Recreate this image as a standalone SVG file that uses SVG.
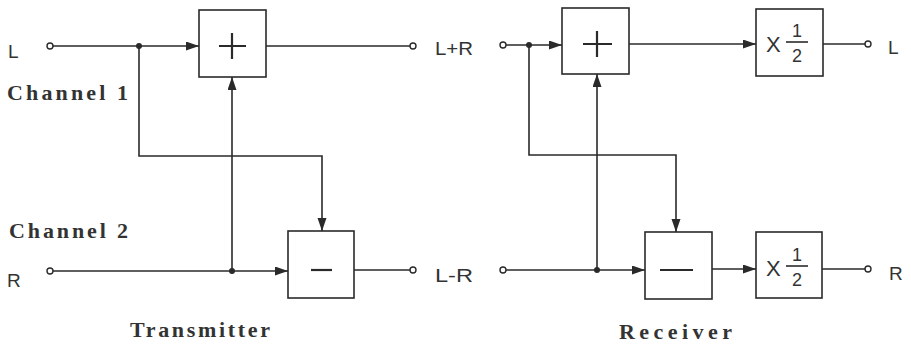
<svg xmlns="http://www.w3.org/2000/svg" width="911" height="347" viewBox="0 0 911 347">
<defs>
<marker id="ah" markerUnits="userSpaceOnUse" markerWidth="14" markerHeight="10" refX="13" refY="4.5" orient="auto">
<path d="M0,0 L13,4.5 L0,9 z" fill="#2a2a2a"/>
</marker>
<style>
.ln{fill:none;stroke:#2a2a2a;stroke-width:1.6}
.arr{fill:none;stroke:#2a2a2a;stroke-width:1.6;marker-end:url(#ah)}
.box{fill:#fff;stroke:#2a2a2a;stroke-width:1.6}
.sym{fill:none;stroke:#2a2a2a;stroke-width:2.2}
.term{fill:#fff;stroke:#2a2a2a;stroke-width:1.4}
.dot{fill:#2a2a2a}
.lbl{font-family:"Liberation Sans",Arial,sans-serif;font-size:19px;fill:#333}
.tw{font-family:"Liberation Serif","Times New Roman",serif;font-weight:bold;font-size:22px;fill:#333}
.x{font-family:"Liberation Sans",Arial,sans-serif;font-size:22px;fill:#333}
.fr{font-family:"Liberation Sans",Arial,sans-serif;font-size:18px;fill:#333}
</style>
</defs>
<rect width="911" height="347" fill="#fff"/>

<g id="connectors">
<!-- transmitter -->
<line class="arr" x1="53" y1="46" x2="199" y2="46"/>
<polyline class="arr" points="139,46 139,156 322,156 322,231"/>
<line class="ln" x1="266" y1="46" x2="410" y2="46"/>
<line class="arr" x1="53" y1="271" x2="288" y2="271"/>
<line class="arr" x1="232" y1="271" x2="232" y2="77"/>
<line class="ln" x1="354" y1="270" x2="410" y2="270"/>
<!-- receiver -->
<line class="arr" x1="506" y1="45" x2="562" y2="45"/>
<polyline class="arr" points="529,45 529,155 676,155 676,232"/>
<line class="arr" x1="629" y1="44" x2="756" y2="44"/>
<line class="ln" x1="823" y1="44" x2="865" y2="44"/>
<line class="arr" x1="506" y1="270" x2="645" y2="270"/>
<line class="arr" x1="597" y1="270" x2="597" y2="74"/>
<line class="arr" x1="712" y1="269" x2="756" y2="269"/>
<line class="ln" x1="822" y1="269" x2="865" y2="269"/>
</g>

<g id="terminals">
<circle class="term" cx="50" cy="46" r="3"/>
<circle class="term" cx="50" cy="271" r="3"/>
<circle class="term" cx="413" cy="46" r="3"/>
<circle class="term" cx="413" cy="270" r="3"/>
<circle class="term" cx="503" cy="45" r="3"/>
<circle class="term" cx="503" cy="270" r="3"/>
<circle class="term" cx="868" cy="44" r="3"/>
<circle class="term" cx="868" cy="269" r="3"/>
<circle class="dot" cx="139" cy="46" r="3"/>
<circle class="dot" cx="232" cy="271" r="3"/>
<circle class="dot" cx="529" cy="45" r="3"/>
<circle class="dot" cx="597" cy="270" r="3"/>
</g>

<g id="tx-add">
<rect class="box" x="199" y="10" width="67" height="67"/>
<path class="sym" d="M219,46 H246 M232,33 V59"/>
</g>
<g id="tx-sub">
<rect class="box" x="288" y="231" width="66" height="67"/>
<path class="sym" d="M311,270 H332"/>
</g>
<g id="rx-add">
<rect class="box" x="562" y="8" width="67" height="66"/>
<path class="sym" d="M583,44 H612 M597,31 V57"/>
</g>
<g id="rx-sub">
<rect class="box" x="645" y="232" width="67" height="67"/>
<path class="sym" d="M660,270 H693"/>
</g>
<g id="rx-half-l">
<rect class="box" x="756" y="9" width="67" height="67"/>
<text class="x" x="766" y="52">X</text>
<line class="ln" x1="786" y1="42" x2="808" y2="42" stroke-width="1.4"/>
<text class="fr" x="797" y="37" text-anchor="middle">1</text>
<text class="fr" x="797" y="62" text-anchor="middle">2</text>
</g>
<g id="rx-half-r">
<rect class="box" x="756" y="232" width="66" height="66"/>
<text class="x" x="766" y="276">X</text>
<line class="ln" x1="786" y1="266" x2="808" y2="266" stroke-width="1.4"/>
<text class="fr" x="797" y="261" text-anchor="middle">1</text>
<text class="fr" x="797" y="286" text-anchor="middle">2</text>
</g>

<g id="labels">
<text class="lbl" x="8" y="58">L</text>
<text class="lbl" x="7" y="287">R</text>
<text class="lbl" x="435" y="55" textLength="38" lengthAdjust="spacingAndGlyphs">L+R</text>
<text class="lbl" x="435" y="282" textLength="38" lengthAdjust="spacingAndGlyphs">L-R</text>
<text class="lbl" x="888" y="54">L</text>
<text class="lbl" x="889" y="280">R</text>
<text class="tw" x="7" y="100" textLength="121" lengthAdjust="spacing">Channel 1</text>
<text class="tw" x="9" y="238" textLength="119" lengthAdjust="spacing">Channel 2</text>
<text class="tw" x="130" y="337" textLength="140" lengthAdjust="spacing">Transmitter</text>
<text class="tw" x="619" y="339" textLength="113" lengthAdjust="spacing">Receiver</text>
</g>
</svg>
